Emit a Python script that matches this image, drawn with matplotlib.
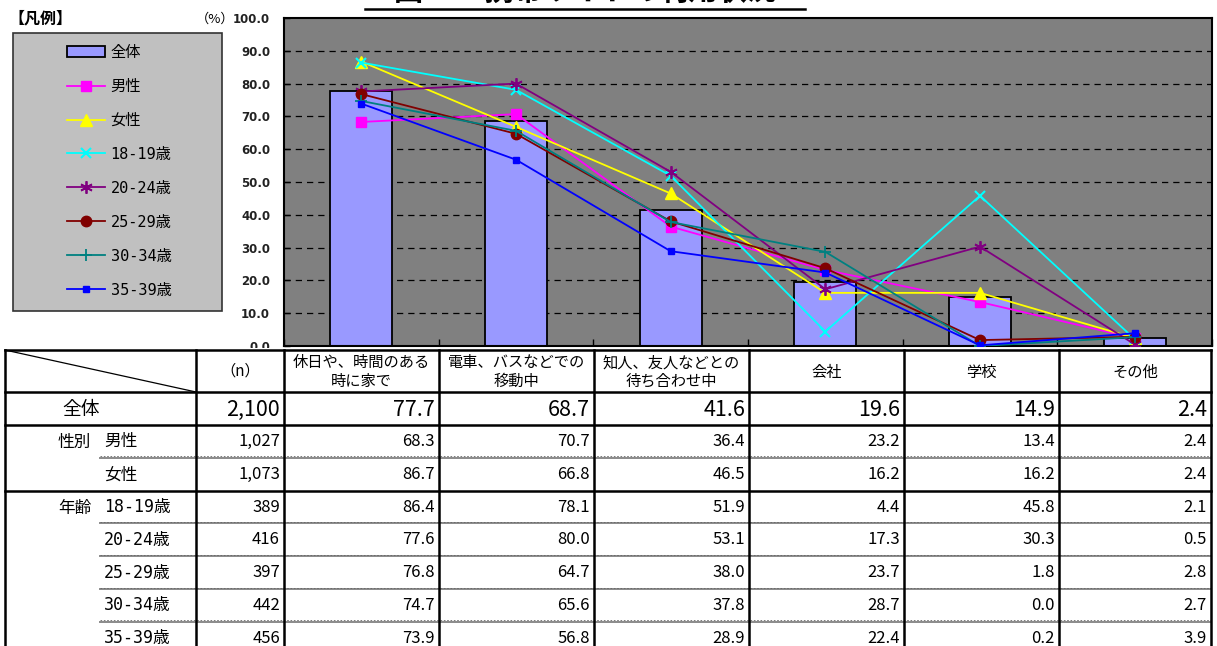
import matplotlib
matplotlib.use("Agg")
import matplotlib.pyplot as plt
from matplotlib.patches import Rectangle
import numpy as np

plt.rcParams['font.family'] = ['Noto Sans CJK JP', 'DejaVu Sans']

# ---------------- data ----------------
title = "図1-2. 携帯サイトの利用状況"
categories = ["休日や、時間のある\n時に家で", "電車、バスなどでの\n移動中", "知人、友人などとの\n待ち合わせ中",
              "会社", "学校", "その他"]
total_label = "全体"
total_n = "2,100"
total_values = [77.7, 68.7, 41.6, 19.6, 14.9, 2.4]

series_names = ["男性", "女性", "18-19歳", "20-24歳", "25-29歳", "30-34歳", "35-39歳"]
series_n = ["1,027", "1,073", "389", "416", "397", "442", "456"]
male = [68.3, 70.7, 36.4, 23.2, 13.4, 2.4]
female = [86.7, 66.8, 46.5, 16.2, 16.2, 2.4]
age_18_19 = [86.4, 78.1, 51.9, 4.4, 45.8, 2.1]
age_20_24 = [77.6, 80.0, 53.1, 17.3, 30.3, 0.5]
age_25_29 = [76.8, 64.7, 38.0, 23.7, 1.8, 2.8]
age_30_34 = [74.7, 65.6, 37.8, 28.7, 0.0, 2.7]
age_35_39 = [73.9, 56.8, 28.9, 22.4, 0.2, 3.9]
series_values = [male, female, age_18_19, age_20_24, age_25_29, age_30_34, age_35_39]
group_labels = {0: "性別", 2: "年齢"}
yticks = [0, 10, 20, 30, 40, 50, 60, 70, 80, 90, 100]

# ---------------- styles ----------------
styles = [
    dict(color="#FF00FF", marker="s", ms=7),
    dict(color="#FFFF00", marker="^", ms=8),
    dict(color="#00FFFF", marker="x", ms=7, mew=1.5),
    dict(color="#800080", marker=(6, 2, 0), ms=9, mew=1.3),
    dict(color="#800000", marker="o", ms=7.5),
    dict(color="#008080", marker="+", ms=8, mew=1.3),
    dict(color="#0000FF", marker="s", ms=4),
]
MONO = ["DejaVu Sans Mono", "Noto Sans CJK JP"]

W, H = 1217, 646
fig = plt.figure(figsize=(W / 100, H / 100), dpi=100)

# chart axes
L, R, T, B = 284, 1212, 18, 346
ax = fig.add_axes([L / W, 1 - B / H, (R - L) / W, (B - T) / H])
ax.set_facecolor("#808080")
x = np.arange(len(categories))
ax.set_xlim(-0.5, len(categories) - 0.5)
ax.set_ylim(0, 100)
for yv in yticks[1:-1]:
    ax.axhline(yv, color="black", lw=0.9, ls=(0, (5, 4)), zorder=0.5)
ax.bar(x, total_values, width=0.4, color="#9999FF", edgecolor="black", lw=1.3, zorder=2,
       label=total_label)
for name, vals, st in zip(series_names, series_values, styles):
    ax.plot(x, vals, color=st["color"], lw=1.3, marker=st["marker"], ms=st["ms"],
            mew=st.get("mew", 1.0), mec=st["color"], mfc=st["color"], zorder=3, label=name)
ax.set_yticks(yticks)
ax.set_yticklabels([f"{v:.1f}" for v in yticks], fontsize=8.5, fontweight="bold", color="#222222",
                   family=["DejaVu Sans"])
ax.tick_params(axis="y", direction="in", length=4, width=1, pad=10)
ax.set_xticks([])
ax.set_xticks(np.arange(-0.5, len(categories) + 0.5, 1), minor=True)
ax.tick_params(axis="x", which="minor", direction="in", length=5, width=1)
for s in ax.spines.values():
    s.set_linewidth(1.5)
    s.set_color("black")

# legend
fig.patches.append(Rectangle((13 / W, 1 - 311 / H), (222 - 13) / W, (311 - 33) / H,
                             transform=fig.transFigure, facecolor="#C0C0C0",
                             edgecolor="#333333", lw=1.2, zorder=0))
h, l = ax.get_legend_handles_labels()
order = [len(h) - 1] + list(range(len(h) - 1))
leg = fig.legend([h[i] for i in order], [l[i] for i in order], loc="upper left",
                 bbox_to_anchor=(67 / W, 1 - 45 / H), frameon=False,
                 prop=dict(family=MONO, size=11),
                 handlelength=2.5, handletextpad=0.35, labelspacing=1.24,
                 borderpad=0, borderaxespad=0)
fig.text(8 / W, 1 - 18 / H, "【凡例】", fontsize=11.5, fontweight="bold", va="center", ha="left")
fig.text(234 / W, 1 - 19 / H, "（%）", fontsize=9.5, va="center", ha="right")

# overlay for table and title
ov = fig.add_axes([0, 0, 1, 1], zorder=5)
ov.set_xlim(0, W)
ov.set_ylim(H, 0)
ov.axis("off")

ov.text(585, 5.5, title, fontsize=21, fontweight="bold", ha="center", va="bottom")
ov.plot([365, 805], [8.5, 8.5], color="black", lw=1.8)

tab_top = 350
ov.add_patch(Rectangle((0, 348), W, H - 348, facecolor="white", edgecolor="none", zorder=0))
colx = [5, 196, 284, 439, 594, 749, 904, 1059, 1211]
header_bot = 392
total_bot = 425
row_h = 32.8
rows_y = [total_bot + row_h * k for k in range(len(series_names) + 1)]
bottom = H + 10

# lines
lw_thick = 1.8
ov.plot([colx[0], colx[-1]], [tab_top, tab_top], color="black", lw=lw_thick)
ov.plot([colx[0], colx[-1]], [header_bot, header_bot], color="black", lw=lw_thick)
ov.plot([colx[0], colx[-1]], [total_bot, total_bot], color="black", lw=lw_thick)
ov.plot([colx[0], colx[-1]], [rows_y[2], rows_y[2]], color="black", lw=lw_thick)
for k in range(1, len(series_names)):
    if k == 2:
        continue
    ov.plot([100, colx[-1]], [rows_y[k], rows_y[k]], color="#8a8a8a", lw=1.4)
    ov.plot([100, colx[-1]], [rows_y[k] - 1.5, rows_y[k] - 1.5], color="#666666", lw=0.6,
            ls=(0, (2, 2)))
for cx in colx:
    ov.plot([cx, cx], [tab_top, bottom], color="black", lw=lw_thick)
ov.plot([colx[0], colx[1]], [tab_top, header_bot], color="black", lw=0.9)

# header
ov.text((colx[1] + colx[2]) / 2, (tab_top + header_bot) / 2, "（n）", fontsize=11,
        ha="center", va="center")
for i, c in enumerate(categories):
    ov.text((colx[i + 2] + colx[i + 3]) / 2, (tab_top + header_bot) / 2 + 1, c, fontsize=11,
            ha="center", va="center", linespacing=1.1)

# total row
ymid = (header_bot + total_bot) / 2 + 1
ov.text(62, ymid, total_label, fontsize=13.5, ha="left", va="center")
ov.text(colx[2] - 4, ymid, total_n, fontsize=15.5, ha="right", va="center")
for i, v in enumerate(total_values):
    ov.text(colx[i + 3] - 4, ymid, f"{v:.1f}", fontsize=15.5, ha="right", va="center")

# series rows
for k, (name, n, vals) in enumerate(zip(series_names, series_n, series_values)):
    ym = rows_y[k] + row_h / 2
    if k in group_labels:
        ov.text(58, ym + 1, group_labels[k], fontsize=12, ha="left", va="center")
    ov.text(104, ym, name, fontsize=12, ha="left", va="center", family=MONO)
    ov.text(colx[2] - 4, ym, n, fontsize=12, ha="right", va="center")
    for i, v in enumerate(vals):
        ov.text(colx[i + 3] - 4, ym, f"{v:.1f}", fontsize=12, ha="right", va="center")

fig.savefig("out.png", dpi=100)
